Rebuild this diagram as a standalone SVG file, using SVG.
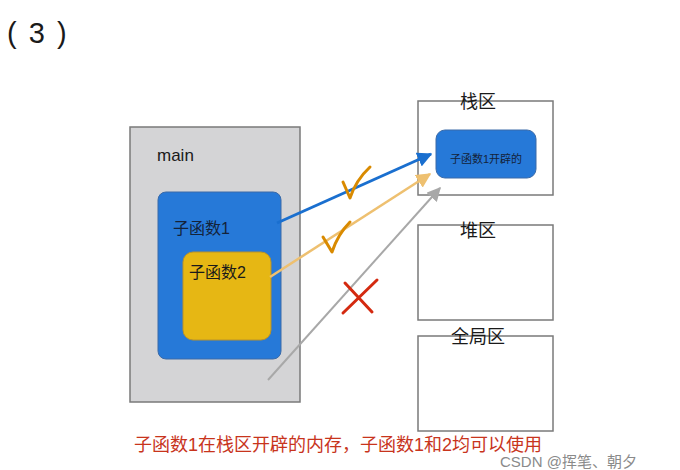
<svg xmlns="http://www.w3.org/2000/svg" width="680" height="470" viewBox="0 0 680 470">
<style>
.t{font-family:"Liberation Sans","Noto Sans CJK SC",sans-serif;fill:#1a1a1a}
.area{fill:#fff;stroke:#7a7a7a;stroke-width:1.5}
.lbl{font-size:18px;text-anchor:middle}
.mark{fill:none;stroke:#d98a00;stroke-width:3;stroke-linecap:round;stroke-linejoin:round}
</style>
<defs>
<marker id="ab" viewBox="0 0 10 10" refX="9" refY="5" markerWidth="5" markerHeight="5" orient="auto" markerUnits="strokeWidth"><path d="M0,0 L10,5 L0,10 z" fill="#1a6fcf"/></marker>
<marker id="ay" viewBox="0 0 10 10" refX="9" refY="5" markerWidth="6" markerHeight="6" orient="auto" markerUnits="strokeWidth"><path d="M0,0 L10,5 L0,10 z" fill="#eec070"/></marker>
<marker id="ag" viewBox="0 0 10 10" refX="9" refY="5" markerWidth="7" markerHeight="7" orient="auto" markerUnits="strokeWidth"><path d="M0,0 L10,5 L0,10 z" fill="#a8a8a8"/></marker>
</defs>
<rect width="680" height="470" fill="#fff"/>
<text class="t" x="7" y="43" font-size="29" letter-spacing="2">( 3 )</text>

<g id="main">
<rect x="130" y="127" width="170" height="275" fill="#d4d4d6" stroke="#7a7a7a" stroke-width="1.5"/>
<text class="t" x="157" y="161" font-size="17">main</text>
</g>
<g id="sub1">
<rect x="158" y="192" width="123" height="167" rx="8" fill="#2679d8" stroke="#3a6aa8" stroke-width="1"/>
<text class="t" x="173" y="234" font-size="16" style="fill:#14233a">子函数1</text>
</g>
<g id="sub2">
<rect x="183" y="252" width="88" height="88" rx="10" fill="#e6b714" stroke="#b8922a" stroke-width="1"/>
<text class="t" x="189" y="278" font-size="16">子函数2</text>
</g>

<g id="stack">
<rect class="area" x="418" y="101" width="135" height="94"/>
<text class="t lbl" x="478" y="108">栈区</text>
</g>
<g id="stackmem">
<rect x="436" y="130" width="100" height="48" rx="9" fill="#2679d8" stroke="#3a6aa8" stroke-width="1"/>
<text class="t" x="486" y="163" font-size="11" text-anchor="middle" style="fill:#14233a">子函数1开辟的</text>
</g>
<g id="heap">
<rect class="area" x="418" y="225" width="135" height="95"/>
<text class="t lbl" x="478" y="237">堆区</text>
</g>
<g id="global">
<rect class="area" x="418" y="336" width="135" height="95"/>
<text class="t lbl" x="478" y="343">全局区</text>
</g>

<g id="connectors">
<line x1="277" y1="223" x2="431" y2="154" stroke="#1a6fcf" stroke-width="3" marker-end="url(#ab)"/>
<line x1="270" y1="277" x2="430" y2="174" stroke="#eec070" stroke-width="2.5" marker-end="url(#ay)"/>
<line x1="268" y1="380" x2="440" y2="188" stroke="#a8a8a8" stroke-width="2" marker-end="url(#ag)"/>
<path class="mark" d="M343,182 L350,198 Q356,180 370,167"/>
<path class="mark" d="M323,237 L332,252 Q338,234 350,222"/>
<path d="M343,313 L377,280 M345,283 L372,312" stroke="#d42a10" stroke-width="3" fill="none" stroke-linecap="round"/>
</g>

<text class="t" x="134" y="451" font-size="18" style="fill:#c8341c">子函数1在栈区开辟的内存，子函数1和2均可以使用</text>
<text class="t" x="500" y="467" font-size="15" style="fill:#8a8a8a">CSDN @挥笔、朝夕</text>
</svg>
